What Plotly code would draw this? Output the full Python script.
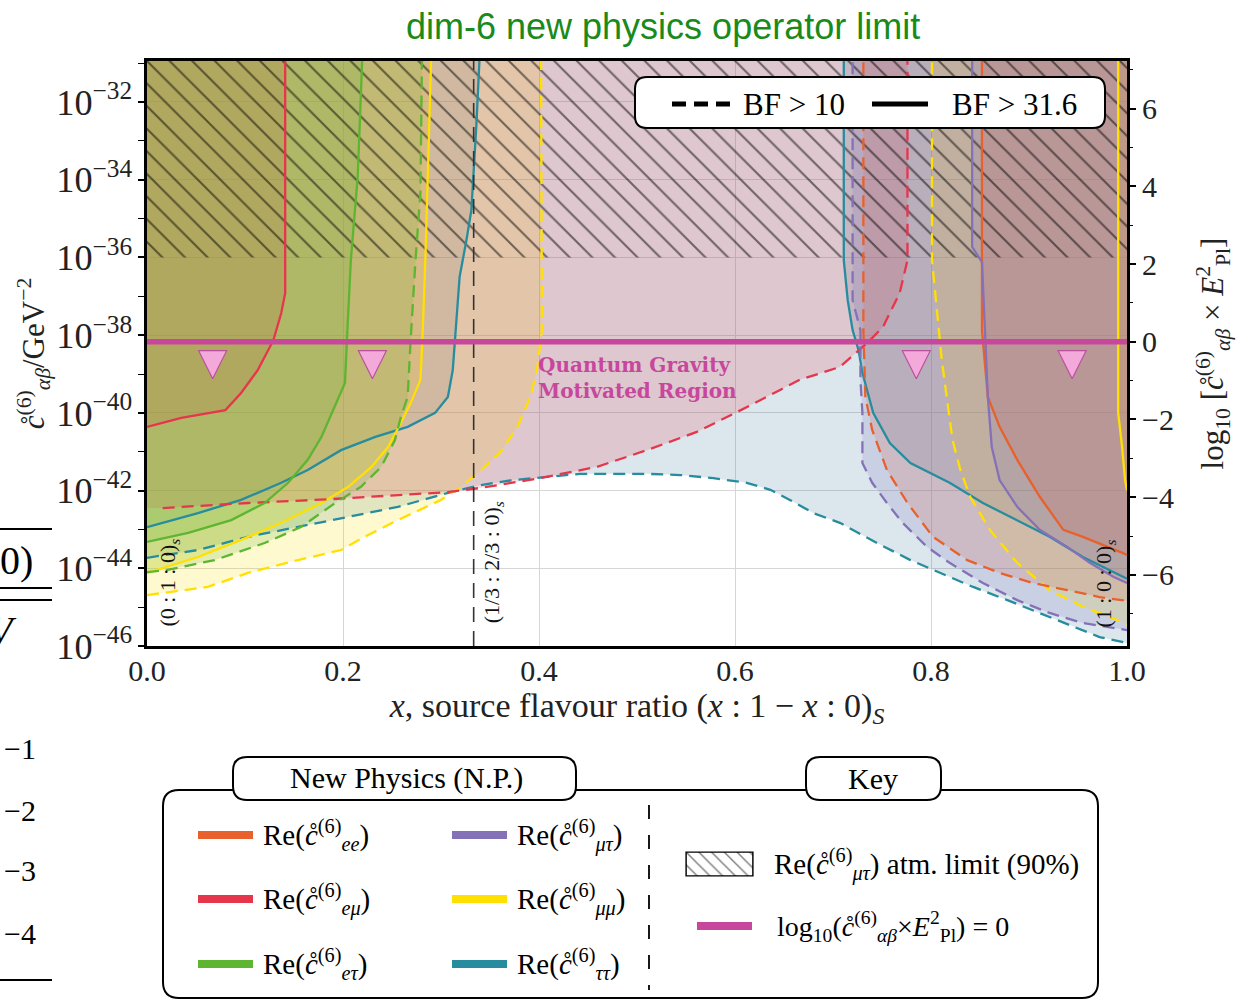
import plotly.graph_objects as go

W, H = 1246, 1001
E_PL_LOG = 38.17          # log10(E_Pl^2 / GeV^2)
TOP = -30.0               # contours leave through the top edge
Y_RANGE = [-46.0, -30.945]

# ---------------- data: x = source ratio, v = log10(c / GeV^-2) ----------------
ee_dash_x = [0.731, 0.731, 0.733, 0.740, 0.755, 0.776, 0.802, 0.837, 0.870, 0.904, 0.939, 0.972, 1.0]
ee_dash_v = [TOP, -37.87, -39.59, -40.44, -41.47, -42.32, -43.19, -43.79, -44.12, -44.38, -44.56, -44.74, -44.84]
ee_sol_x = [0.852, 0.852, 0.858, 0.870, 0.888, 0.911, 0.935, 0.955, 0.996, 1.0]
ee_sol_v = [TOP, -37.87, -39.59, -40.36, -41.21, -42.16, -43.01, -43.19, -43.61, -43.66]

em_dash_x = [0.016, 0.103, 0.188, 0.307, 0.341, 0.401, 0.459, 0.510, 0.561, 0.602, 0.646, 0.666, 0.707, 0.735, 0.751, 0.768, 0.776, 0.776]
em_dash_v = [-42.45, -42.32, -42.22, -42.04, -41.93, -41.68, -41.39, -40.96, -40.49, -39.98, -39.41, -39.15, -38.82, -38.20, -37.79, -36.92, -36.07, TOP]
em_sol_x = [0.0, 0.035, 0.080, 0.096, 0.113, 0.129, 0.137, 0.141, 0.141]
em_sol_v = [-40.36, -40.13, -39.93, -39.49, -38.90, -38.13, -37.43, -36.92, TOP]

et_dash_x = [0.0, 0.021, 0.069, 0.120, 0.157, 0.192, 0.218, 0.239, 0.253, 0.259, 0.266, 0.269, 0.274, 0.279, 0.281]
et_dash_v = [-44.10, -44.04, -43.79, -43.35, -42.94, -42.32, -41.91, -41.39, -40.70, -40.11, -39.59, -38.13, -36.07, -34.34, TOP]
et_sol_x = [0.0, 0.042, 0.086, 0.120, 0.144, 0.164, 0.178, 0.190, 0.198, 0.202, 0.204, 0.208, 0.215, 0.221]
et_sol_v = [-43.32, -43.09, -42.76, -42.32, -41.80, -41.21, -40.62, -39.93, -39.49, -39.23, -38.13, -36.07, -33.93, TOP]

mt_dash_x = [0.720, 0.720, 0.728, 0.728, 0.730, 0.730, 0.740, 0.755, 0.771, 0.796, 0.819, 0.853, 0.888, 0.921, 0.955, 0.986, 1.0]
mt_dash_v = [TOP, -37.10, -37.87, -39.15, -40.00, -41.29, -41.80, -42.32, -42.83, -43.45, -43.86, -44.38, -44.82, -45.15, -45.41, -45.54, -45.59]
mt_sol_x = [0.842, 0.842, 0.852, 0.855, 0.858, 0.862, 0.870, 0.888, 0.911, 0.939, 0.962, 0.986, 1.0]
mt_sol_v = [TOP, -35.73, -36.12, -37.87, -39.59, -40.88, -41.73, -42.42, -43.01, -43.45, -43.86, -44.22, -44.38]

mm_dash_l_x = [0.0, 0.062, 0.103, 0.154, 0.198, 0.222, 0.256, 0.300, 0.320, 0.341, 0.360, 0.378, 0.391, 0.398, 0.403, 0.402]
mm_dash_l_v = [-44.69, -44.48, -44.12, -43.79, -43.53, -43.19, -42.76, -42.24, -41.91, -41.47, -41.03, -40.36, -39.59, -38.90, -37.87, TOP]
mm_dash_r_x = [0.801, 0.801, 0.806, 0.809, 0.811, 0.816, 0.822, 0.830, 0.840, 0.860, 0.888, 0.921, 0.955, 0.990, 1.0]
mm_dash_r_v = [TOP, -36.07, -37.35, -38.20, -38.64, -39.59, -40.70, -41.47, -42.16, -43.01, -43.86, -44.56, -44.99, -45.33, -45.43]
mm_sol_l_x = [0.0, 0.052, 0.096, 0.137, 0.178, 0.205, 0.229, 0.246, 0.259, 0.269, 0.279, 0.281, 0.284, 0.287, 0.291]
mm_sol_l_v = [-44.12, -43.71, -43.27, -42.83, -42.32, -41.91, -41.39, -40.88, -40.26, -39.75, -39.15, -38.13, -36.07, -33.49, TOP]
mm_sol_r_x = [0.991, 0.991, 0.991, 0.995, 0.998, 1.0]
mm_sol_r_v = [TOP, -37.87, -40.00, -40.88, -41.73, -42.0]

tt_dash_x = [0.0, 0.052, 0.103, 0.154, 0.205, 0.256, 0.307, 0.340, 0.373, 0.408, 0.442, 0.476, 0.510, 0.544, 0.578,
             0.612, 0.636, 0.656, 0.680, 0.707, 0.745, 0.779, 0.809, 0.843, 0.878, 0.911, 0.945, 0.972, 1.0]
tt_dash_v = [-43.73, -43.53, -43.19, -42.94, -42.68, -42.42, -42.06, -41.86, -41.73, -41.65, -41.57, -41.57, -41.57, -41.60, -41.68,
             -41.80, -41.98, -42.24, -42.58, -42.83, -43.35, -43.79, -44.12, -44.48, -44.82, -45.15, -45.51, -45.77, -45.92]
tt_sol_l_x = [0.0, 0.052, 0.096, 0.137, 0.164, 0.198, 0.233, 0.266, 0.294, 0.307, 0.312, 0.314, 0.319, 0.326, 0.331, 0.336, 0.341]
tt_sol_l_v = [-42.94, -42.58, -42.24, -41.80, -41.47, -40.96, -40.62, -40.36, -40.00, -39.59, -38.90, -38.13, -36.50, -35.55, -34.78, -32.64, TOP]
tt_sol_r_x = [0.711, 0.711, 0.715, 0.720, 0.726, 0.730, 0.741, 0.758, 0.779, 0.819, 0.853, 0.888, 0.921, 0.955, 0.996, 1.0]
tt_sol_r_v = [TOP, -36.07, -37.10, -37.87, -38.38, -38.97, -40.00, -40.78, -41.29, -41.80, -42.32, -42.76, -43.19, -43.71, -44.22, -44.27]

atm_limit_v = -36.0                    # hatched atmospheric limit
arrow_x = [0.067, 0.230, 0.785, 0.944]  # "region below" arrows (tip position)
arrow_v = [-39.12, -39.12, -39.12, -39.12]
flavour_x = [0.0, 1 / 3, 1.0]
flavour_labels = ["(0 : 1 : 0)<sub><i>s</i></sub>", "(1/3 : 2/3 : 0)<sub><i>s</i></sub>", "(1 : 0 : 0)<sub><i>s</i></sub>"]

COL = {"ee": "#E8612C", "em": "#E6364C", "et": "#5DB531", "mt": "#8471B8", "mm": "#FFE000", "tt": "#268C9E"}
FILL = {"ee": "#E8612C", "em": "#EE4248", "et": "#5DB531", "mt": "#8471B8", "mm": "#FFE000", "tt": "#3E7DA2"}
PINK = "#C7479D"
SERIF = "Liberation Serif, DejaVu Serif, serif"
ALPHA = 0.19

# (name, x, v, closing side, dashed?)  -- drawing order matters for the blended colours
contours = [
    ("tt", tt_dash_x, tt_dash_v, "span", True),
    ("tt", tt_sol_l_x, tt_sol_l_v, "left", False),
    ("tt", tt_sol_r_x, tt_sol_r_v, "right", False),
    ("mm", mm_dash_l_x, mm_dash_l_v, "left", True),
    ("mm", mm_dash_r_x, mm_dash_r_v, "right", True),
    ("mm", mm_sol_l_x, mm_sol_l_v, "left", False),
    ("mm", mm_sol_r_x, mm_sol_r_v, "right", False),
    ("em", em_dash_x, em_dash_v, "left", True),
    ("em", em_sol_x, em_sol_v, "left", False),
    ("et", et_dash_x, et_dash_v, "left", True),
    ("et", et_sol_x, et_sol_v, "left", False),
    ("ee", ee_dash_x, ee_dash_v, "right", True),
    ("ee", ee_sol_x, ee_sol_v, "right", False),
    ("mt", mt_dash_x, mt_dash_v, "right", True),
    ("mt", mt_sol_x, mt_sol_v, "right", False),
]


def rgba(hexc, a):
    h = hexc.lstrip("#")
    r, g, b = int(h[0:2], 16), int(h[2:4], 16), int(h[4:6], 16)
    return f"rgba({r},{g},{b},{a})"


def polygon(xs, vs, side):
    if side == "left":
        px = [0.0] + list(xs) + [0.0]
        pv = [vs[0]] + list(vs) + [TOP]
    elif side == "right":
        px = list(xs) + [1.0]
        pv = list(vs) + [TOP]
    else:
        px = list(xs) + [1.0, 0.0]
        pv = list(vs) + [TOP, TOP]
    return px, [10 ** v for v in pv]


fig = go.Figure()

# filled regions
for name, xs, vs, side, dashed in contours:
    px, py = polygon(xs, vs, side)
    fig.add_trace(go.Scatter(x=px, y=py, mode="lines", fill="toself",
                             fillcolor=rgba(FILL[name], ALPHA), line=dict(width=0),
                             hoverinfo="skip", showlegend=False))

# hatched atmospheric limit
fig.add_trace(go.Scatter(x=[0, 1, 1, 0, 0], y=[10 ** atm_limit_v] * 2 + [10 ** TOP] * 2 + [10 ** atm_limit_v],
                         mode="lines", fill="toself", fillcolor="rgba(0,0,0,0)", line=dict(width=0),
                         fillpattern=dict(shape="\\", fgcolor="black", bgcolor="rgba(0,0,0,0)",
                                          size=16, solidity=0.13),
                         hoverinfo="skip", showlegend=False))

# contour lines
for name, xs, vs, side, dashed in contours:
    fig.add_trace(go.Scatter(x=xs, y=[10 ** v for v in vs], mode="lines",
                             line=dict(color=COL[name], width=2.3, dash="12px,7px" if dashed else "solid"),
                             hoverinfo="skip", showlegend=False))

# (1/3 : 2/3 : 0) marker line
fig.add_trace(go.Scatter(x=[flavour_x[1], flavour_x[1]], y=[10 ** Y_RANGE[0], 10 ** TOP], mode="lines",
                         line=dict(color="#333333", width=1.6, dash="15px,9px"),
                         hoverinfo="skip", showlegend=False))

# arrows
fig.add_trace(go.Scatter(x=arrow_x, y=[10 ** v for v in arrow_v], mode="markers",
                         marker=dict(symbol="arrow-down", size=28, color="#F3A9DA",
                                     line=dict(color="#B9509E", width=1.2)),
                         hoverinfo="skip", showlegend=False))

# Planck line on the right axis (log10(c*E_Pl^2) = 0)
fig.add_trace(go.Scatter(x=[0, 1], y=[0, 0], yaxis="y2", mode="lines",
                         line=dict(color=PINK, width=5.5), hoverinfo="skip", showlegend=False))

# key hatch icon (own tiny axes)
fig.add_trace(go.Scatter(x=[0, 1, 1, 0, 0], y=[0, 0, 1, 1, 0], xaxis="x3", yaxis="y3", mode="lines",
                         fill="toself", fillcolor="rgba(0,0,0,0)",
                         fillpattern=dict(shape="\\", fgcolor="black", bgcolor="rgba(0,0,0,0)",
                                          size=9, solidity=0.16),
                         line=dict(color="black", width=1.2), hoverinfo="skip", showlegend=False))


def P(px, py):
    return px / W, 1 - py / H


def rounded(x0, y0, x1, y1, r):
    def f(a, b):
        u, v = P(a, b)
        return f"{u:.5f},{v:.5f}"
    return (f"M {f(x0 + r, y0)} L {f(x1 - r, y0)} Q {f(x1, y0)} {f(x1, y0 + r)} "
            f"L {f(x1, y1 - r)} Q {f(x1, y1)} {f(x1 - r, y1)} L {f(x0 + r, y1)} "
            f"Q {f(x0, y1)} {f(x0, y1 - r)} L {f(x0, y0 + r)} Q {f(x0, y0)} {f(x0 + r, y0)} Z")


shapes = []
annotations = []


def hline(x0, x1, y, color, width, dash="solid"):
    a, b = P(x0, y)
    c, d = P(x1, y)
    shapes.append(dict(type="line", xref="paper", yref="paper", x0=a, y0=b, x1=c, y1=d,
                       line=dict(color=color, width=width, dash=dash), layer="above"))


def text(px, py, s, size, color="black", anchor="left", family=SERIF, angle=0):
    u, v = P(px, py)
    annotations.append(dict(xref="paper", yref="paper", x=u, y=v, text=s, showarrow=False,
                            xanchor=anchor, yanchor="middle", textangle=angle,
                            font=dict(family=family, size=size, color=color)))


# BF legend box
shapes.append(dict(type="path", xref="paper", yref="paper", path=rounded(635, 77, 1105, 128, 12),
                   fillcolor="white", line=dict(color="black", width=2), layer="above"))
hline(672, 738, 104, "black", 5, "14px,8px")
text(741, 104, "BF > 10", 31)
hline(872, 928, 104, "black", 5)
text(950, 104, "BF > 31.6", 31)

# legend panels
shapes.append(dict(type="path", xref="paper", yref="paper", path=rounded(163, 790, 1098, 998, 16),
                   fillcolor="rgba(0,0,0,0)", line=dict(color="black", width=2), layer="above"))
shapes.append(dict(type="path", xref="paper", yref="paper", path=rounded(233, 757, 576, 800, 14),
                   fillcolor="white", line=dict(color="black", width=2), layer="above"))
shapes.append(dict(type="path", xref="paper", yref="paper", path=rounded(806, 757, 941, 800, 14),
                   fillcolor="white", line=dict(color="black", width=2), layer="above"))
text(406, 778, "New Physics (N.P.)", 30, anchor="center")
text(873, 778, "Key", 30, anchor="center")
a, b = P(649, 805)
c, d = P(649, 990)
shapes.append(dict(type="line", xref="paper", yref="paper", x0=a, y0=b, x1=c, y1=d,
                   line=dict(color="black", width=1.8, dash="14px,16px"), layer="above"))

legend_names = [("ee", "ee"), ("em", "eμ"), ("et", "eτ"), ("mt", "μτ"), ("mm", "μμ"), ("tt", "ττ")]
rows_y = [835, 899, 964]
for i, (key, lab) in enumerate(legend_names):
    col, row = divmod(i, 3)
    x0 = 198 if col == 0 else 452
    hline(x0, x0 + 55, rows_y[row], COL[key], 8)
    text(x0 + 63, rows_y[row], f"Re(<i>c̊</i><sup>(6)</sup><sub><i>{lab}</i></sub>)", 29)

shapes.append(dict(type="rect", xref="paper", yref="paper", x0=686 / W, x1=753 / W, y0=1 - 876 / H, y1=1 - 852 / H,
                   line=dict(color="black", width=1.2), fillcolor="rgba(0,0,0,0)", layer="above"))
text(772, 864, "Re(<i>c̊</i><sup>(6)</sup><sub><i>μτ</i></sub>) atm. limit (90%)", 29)
hline(697, 752, 926, PINK, 8)
text(775, 926, "log<sub>10</sub>(<i>c̊</i><sup>(6)</sup><sub><i>αβ</i></sub>×<i>E</i><sup>2</sup><sub>Pl</sub>) = 0", 28)

# title
text(663, 27, "dim-6 new physics operator limit", 36, color="#1A8A1A", anchor="center",
     family="Liberation Sans, Arial, sans-serif")

# in-plot labels
for fx, lab, vy in zip(flavour_x, flavour_labels, [-44.38, -43.84, -44.38]):
    xx = {0.0: 0.023, 1.0: 0.978}.get(fx, fx + 0.02)
    annotations.append(dict(xref="x", yref="y", x=xx, y=vy, text=lab, showarrow=False, textangle=-90,
                            xanchor="center", yanchor="middle", font=dict(family=SERIF, size=22, color="#111")))
annotations.append(dict(xref="x", yref="y", x=0.397, y=-39.1, text="<b>Quantum Gravity<br>Motivated Region</b>",
                        showarrow=False, xanchor="left", yanchor="middle", align="left",
                        font=dict(family="DejaVu Serif, serif", size=20, color=PINK)))

# fragments of the neighbouring figure on the left edge
for yy in [529, 588, 600, 980]:
    hline(0, 52, yy, "black", 2)
text(-2, 560, "0)", 40)
text(-14, 630, "<i>V</i>", 40)
for yy, s in zip([748, 810, 870, 933], ["−1", "−2", "−3", "−4"]):
    text(2, yy, s, 30)

fig.update_layout(
    width=W, height=H, margin=dict(l=0, r=0, t=0, b=0),
    paper_bgcolor="white", plot_bgcolor="white", showlegend=False,
    shapes=shapes, annotations=annotations,
    xaxis=dict(domain=[147 / W, 1127 / W], range=[0, 1], dtick=0.2, tickformat=".1f",
               showgrid=True, gridcolor="#D6D6D6", gridwidth=1, zeroline=False,
               showline=True, linecolor="black", linewidth=3, mirror=True, ticks="",
               ticklabelstandoff=-4,
               tickfont=dict(family=SERIF, size=30, color="#222"), automargin=False,
               title=dict(text="<i>x</i>, source flavour ratio (<i>x</i> : 1 − <i>x</i> : 0)<sub><i>S</i></sub>",
                          font=dict(family=SERIF, size=34, color="#222"), standoff=0)),
    yaxis=dict(domain=[1 - 646 / H, 1 - 61 / H], type="log", range=Y_RANGE, tick0=0, dtick=2,
               exponentformat="power", showexponent="all",
               showgrid=True, gridcolor="#D6D6D6", gridwidth=1, zeroline=False,
               showline=True, linecolor="black", linewidth=3, mirror=True,
               ticks="outside", ticklen=6, tickwidth=1.5, tickcolor="black",
               minor=dict(dtick=1, ticks="outside", ticklen=6, tickwidth=1.2, tickcolor="black", showgrid=False),
               tickfont=dict(family=SERIF, size=29, color="#222"), automargin=False,
               title=dict(text="<i>c̊</i><sup>(6)</sup><sub><i>αβ</i></sub>/GeV<sup>−2</sup>",
                          font=dict(family=SERIF, size=31, color="#222"), standoff=3)),
    yaxis2=dict(overlaying="y", side="right", anchor="x", range=[Y_RANGE[0] + E_PL_LOG, Y_RANGE[1] + E_PL_LOG],
                tick0=0, dtick=2, showgrid=False, zeroline=False,
                ticks="outside", ticklen=8, tickwidth=1.5, tickcolor="black",
                minor=dict(dtick=1, ticks="outside", ticklen=5, tickwidth=1.2, tickcolor="black", showgrid=False),
                tickfont=dict(family=SERIF, size=30, color="#222"), automargin=False,
                title=dict(text="log<sub>10</sub> [<i>c̊</i><sup>(6)</sup><sub><i>αβ</i></sub> × <i>E</i><sup>2</sup><sub>Pl</sub>]",
                           font=dict(family=SERIF, size=31, color="#222"), standoff=28)),
    xaxis3=dict(domain=[686 / W, 753 / W], range=[0, 1], visible=False, anchor="y3", fixedrange=True),
    yaxis3=dict(domain=[1 - 876 / H, 1 - 852 / H], range=[0, 1], visible=False, anchor="x3", fixedrange=True),
)

fig.write_html("out.html")
